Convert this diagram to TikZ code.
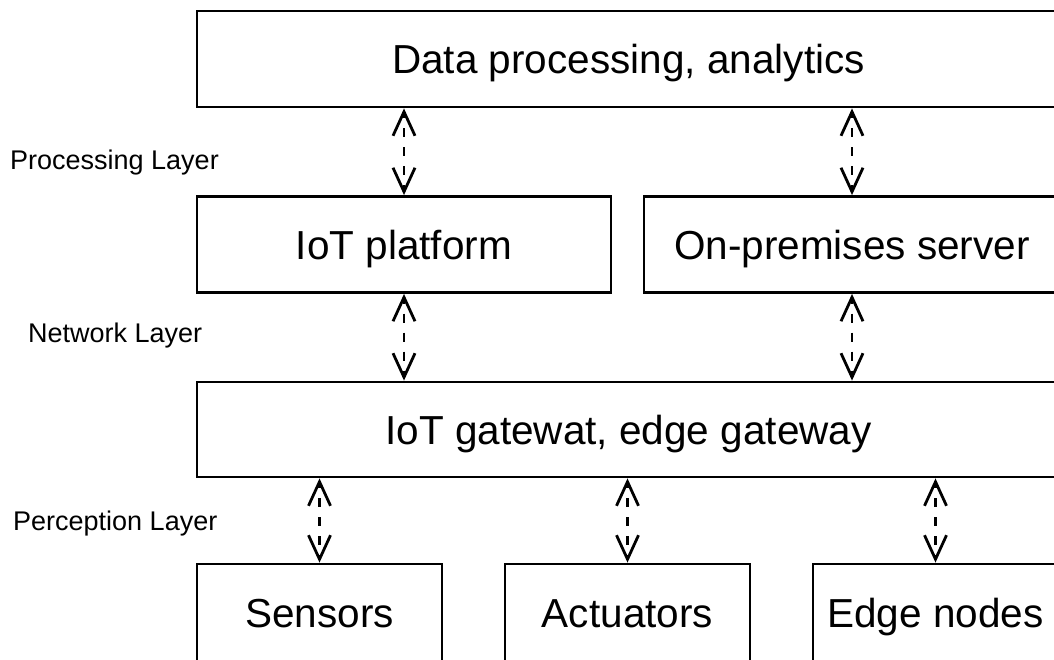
\documentclass[tikz,border=0pt]{standalone}
\usepackage{fontspec}
\setmainfont{Liberation Sans}
\usetikzlibrary{arrows.meta}
\begin{document}
\begin{tikzpicture}[x=1pt,y=-1pt,
  box/.style={draw=black, line width=2.8pt, rectangle, inner sep=0pt,
    minimum height=96pt, text height=29pt, text depth=0pt,
    font=\fontsize{40.5}{48}\selectfont},
  lbl/.style={anchor=base west, inner sep=0pt, font=\fontsize{27}{32}\selectfont},
  arr/.style={line width=2.8pt, dash pattern=on 9pt off 10pt, dash phase=4pt,
    {Straight Barb[length=24pt,width=22pt,line width=2.8pt]}-{Straight Barb[length=24pt,width=22pt,line width=2.8pt]}}
]
\useasboundingbox (0,0) rectangle (1054,660);
\fill[white] (0,0) rectangle (1054,660);
\clip (0,0) rectangle (1054,660);

\node[box, minimum width=863pt] (data) at (628.5,59) {Data processing, analytics};
\node[box, minimum width=414pt] (iot) at (404,244.5) {IoT platform};
\node[box, minimum width=416pt] (prem) at (852,244.5) {On-premises server};
\node[box, minimum width=863pt, minimum height=95pt] (gw) at (628.5,429.5) {IoT gatewat, edge gateway};
\node[box, minimum width=245pt, minimum height=97pt] (sens) at (319.5,612.5) {Sensors};
\node[box, minimum width=245pt, minimum height=97pt] (act) at (627.5,612.5) {Actuators};
\node[box, minimum width=245pt, minimum height=97pt] (edge) at (935.5,612.5) {Edge nodes};

\node[lbl] (l1) at (10,170) {Processing Layer};
\node[lbl] (l2) at (28,342) {Network Layer};
\node[lbl] (l3) at (13,530) {Perception Layer};

\draw[arr] (iot.north |- data.south) -- (iot.north);
\draw[arr] (prem.north |- data.south) -- (prem.north);
\draw[arr] (iot.south) -- (iot.south |- gw.north);
\draw[arr] (prem.south) -- (prem.south |- gw.north);
\draw[arr] (sens.north |- gw.south) -- (sens.north);
\draw[arr] (act.north |- gw.south) -- (act.north);
\draw[arr] (edge.north |- gw.south) -- (edge.north);
\end{tikzpicture}
\end{document}
